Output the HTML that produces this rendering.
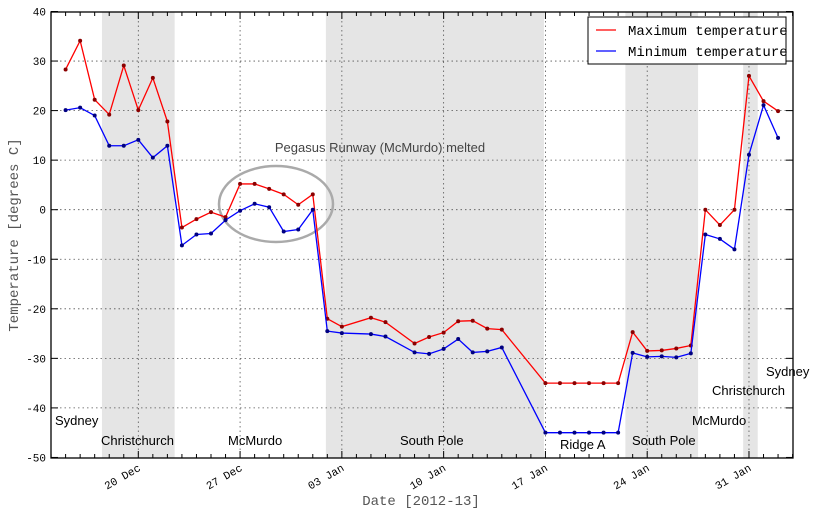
<!DOCTYPE html>
<html><head><meta charset="utf-8"><style>
body{margin:0;background:#fff}
svg{display:block}
text{font-family:"Liberation Sans",sans-serif}
.mono{font-family:"Liberation Mono","DejaVu Sans Mono",monospace}
</style></head><body>
<svg id="chart" width="817" height="515" xmlns="http://www.w3.org/2000/svg"></svg>
<script>
const days = [0,1,2,3,4,5,6,7,8,9,10,11,12,13,14,15,16,17,18,19,21,22,24,25,26,27,28,29,30,33,34,35,36,37,38,39,40,41,42,43,44,45,46,47,48,49];
const maxTemp = [28.3,34.1,22.2,19.2,29.1,20.1,26.6,17.8,-3.6,-1.9,-0.5,-1.5,5.2,5.2,4.2,3.1,1,3.1,-22,-23.6,-21.8,-22.7,-27,-25.7,-24.8,-22.5,-22.4,-24,-24.2,-35,-35,-35,-35,-35,-35,-24.7,-28.5,-28.4,-28,-27.4,0,-3.1,0,27,21.9,19.9];
const minTemp = [20.1,20.6,19,12.9,12.9,14.1,10.5,12.9,-7.2,-5,-4.8,-2.1,-0.2,1.2,0.5,-4.4,-4,0,-24.5,-24.9,-25.1,-25.6,-28.8,-29.1,-28.1,-26.1,-28.8,-28.6,-27.8,-45,-45,-45,-45,-45,-45,-28.9,-29.7,-29.6,-29.8,-29,-5,-5.9,-8,11.1,21.1,14.5];
const yTicks = [-50,-40,-30,-20,-10,0,10,20,30,40];
const xTickDays = [5,12,19,26,33,40,47];
const xTickLabels = ["20 Dec","27 Dec","03 Jan","10 Jan","17 Jan","24 Jan","31 Jan"];
const shadeStart = [2.5,17.9,38.5,46.6];
const shadeEnd = [7.5,32.9,43.5,47.6];
const places = [["Sydney",55,425],["Christchurch",101,445],["McMurdo",228,445],["South Pole",400,445],["Ridge A",560,449],["South Pole",632,445],["McMurdo",692,425],["Christchurch",712,395],["Sydney",766,376]];

const L=51,R=793,T=12,B=458;
const x=d=>65.6+14.54*d;
const y=v=>209.7-4.955*v;
const svg=document.getElementById('chart');
const NS='http://www.w3.org/2000/svg';
function mk(tag,attrs,parent){const e=document.createElementNS(NS,tag);for(const k in attrs)e.setAttribute(k,attrs[k]);(parent||svg).appendChild(e);return e;}

const gShade=mk('g',{});


shadeStart.forEach((s,i)=>{const r=mk('rect',{x:x(s),y:T,width:x(shadeEnd[i])-x(s),height:B-T,fill:'#e5e5e5'},gShade);

});

const gGrid=mk('g',{stroke:'#555','stroke-width':0.8,'stroke-dasharray':'1.5,3'});


yTicks.forEach(v=>{if(v>-50&&v<40)mk('line',{x1:L,x2:R,y1:y(v),y2:y(v)},gGrid);});
xTickDays.forEach(d=>mk('line',{x1:x(d),x2:x(d),y1:T,y2:B},gGrid));

// ellipse
const el=mk('ellipse',{cx:276,cy:204,rx:57,ry:38,fill:'none',stroke:'#aaa','stroke-width':2.5});


const ann=mk('text',{x:380,y:152,'font-size':13,fill:'#444','text-anchor':'middle'});
ann.textContent='Pegasus Runway (McMurdo) melted';



function series(vals,color,dot,name){
 const pts=days.map((d,i)=>x(d)+','+y(vals[i])).join(' ');
 const p=mk('polyline',{points:pts,fill:'none',stroke:color,'stroke-width':1.3});
 
 
 days.forEach((d,i)=>{const c=mk('circle',{cx:x(d),cy:y(vals[i]),r:2,fill:dot});
 
 });
}
series(maxTemp,'#ff0000','#8b0000','max-temp');
series(minTemp,'#0000ff','#000080','min-temp');

// axes frame
const fr=mk('rect',{x:L,y:T,width:R-L,height:B-T,fill:'none',stroke:'#000','stroke-width':1.3});


const gT=mk('g',{stroke:'#000','stroke-width':1});


for(let d=-1;d<=50;d++){const xx=x(d);if(xx<=L||xx>=R)continue;const len=xTickDays.includes(d)?7:4;
 mk('line',{x1:xx,x2:xx,y1:B,y2:B-len},gT);mk('line',{x1:xx,x2:xx,y1:T,y2:T+len},gT);}
yTicks.forEach(v=>{mk('line',{x1:L,x2:L+7,y1:y(v),y2:y(v)},gT);mk('line',{x1:R,x2:R-7,y1:y(v),y2:y(v)},gT);
 const t=mk('text',{x:46,y:y(v)+4,'font-size':11,'text-anchor':'end',class:'mono'});t.textContent=v;
 
 });
xTickDays.forEach((d,i)=>{const t=mk('text',{x:x(d)+3,y:470,'font-size':11,'text-anchor':'end',class:'mono',transform:`rotate(-30 ${x(d)+3} 470)`});t.textContent=xTickLabels[i];
 
 });

places.forEach(p=>{const t=mk('text',{x:p[1],y:p[2],'font-size':13,fill:'#000'});t.textContent=p[0];
 
 });

const xl=mk('text',{x:421,y:505,'font-size':14,fill:'#555','text-anchor':'middle',class:'mono'});xl.textContent='Date [2012-13]';


const yl=mk('text',{x:18,y:235,'font-size':14,fill:'#555','text-anchor':'middle',class:'mono',transform:'rotate(-90 18 235)'});yl.textContent='Temperature [degrees C]';



// legend
const lg=mk('g',{});


mk('rect',{x:588,y:17,width:198,height:47,fill:'#fff',stroke:'#000','stroke-width':1},lg);
[['Maximum temperature','#ff0000',30],['Minimum temperature','#0000ff',51]].forEach(e=>{
 const g=mk('g',{},lg);
 
 
 mk('line',{x1:596,x2:616,y1:e[2],y2:e[2],stroke:e[1],'stroke-width':1.3},g);
 const t=mk('text',{x:628,y:e[2]+5,'font-size':14,class:'mono'},g);t.textContent=e[0];});
</script>
</body></html>
